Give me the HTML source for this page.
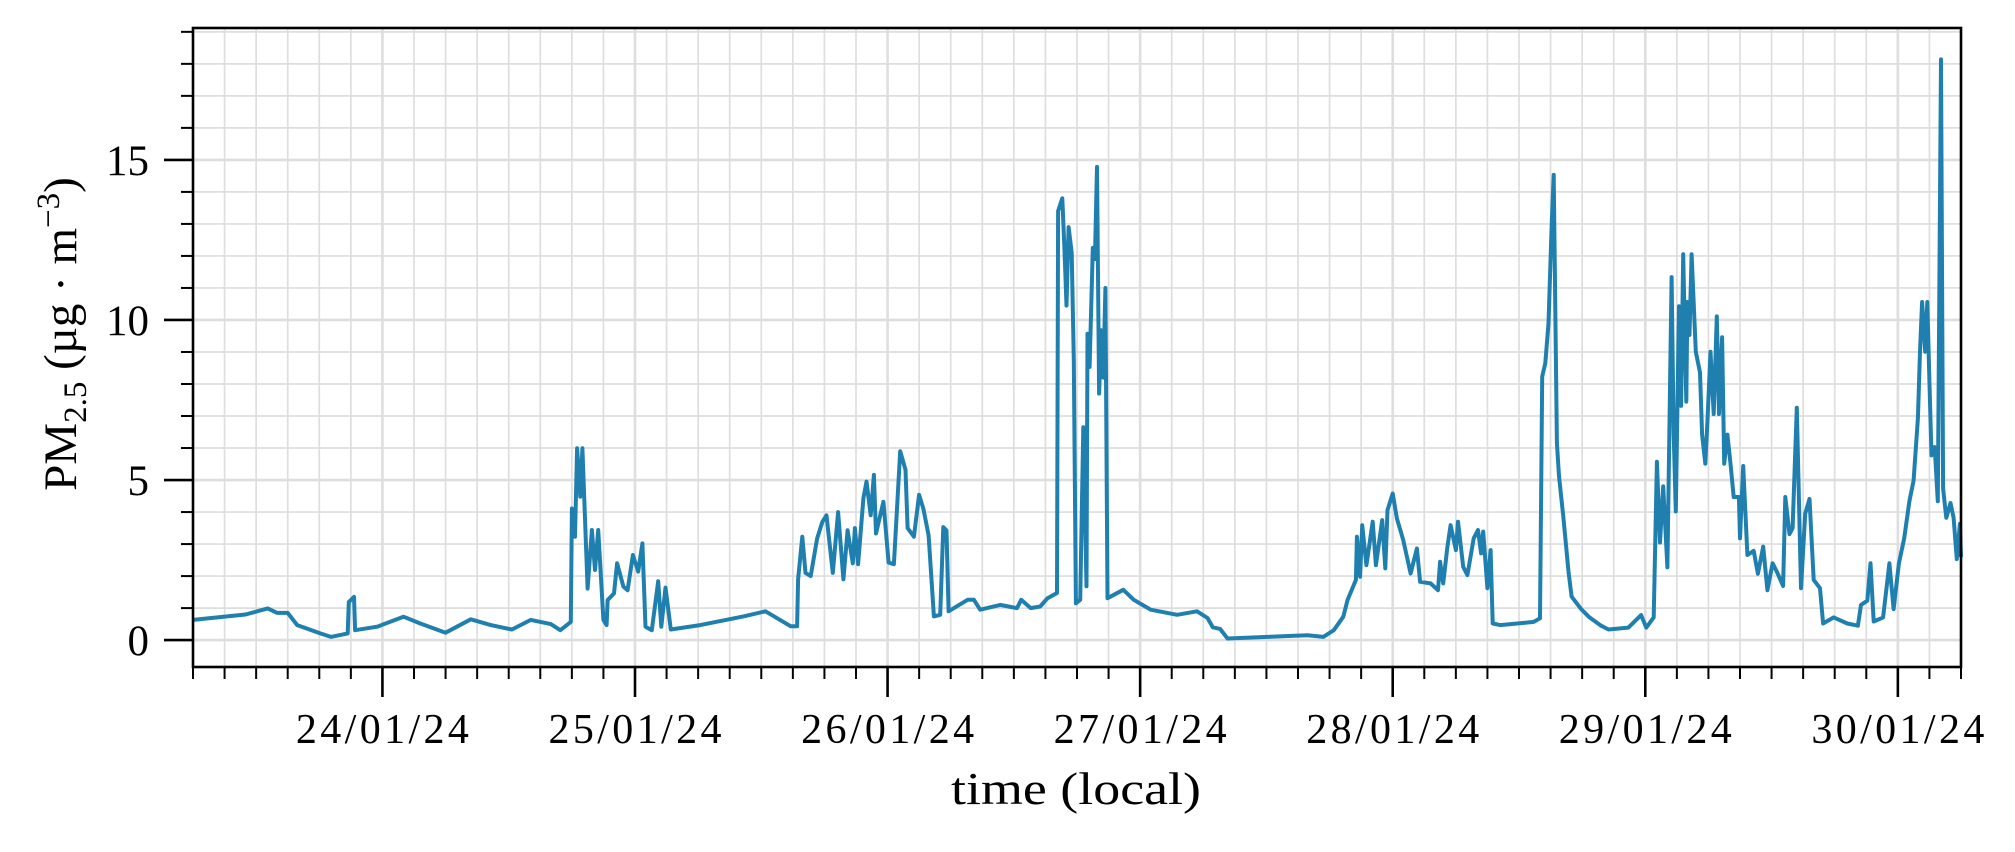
<!DOCTYPE html>
<html><head><meta charset="utf-8"><style>
html,body{margin:0;padding:0;background:#fff;}
svg{display:block;font-family:"Liberation Serif",serif;}
</style></head><body>
<svg id="chart" width="2015" height="852" viewBox="0 0 2015 852" xmlns="http://www.w3.org/2000/svg">
<g id="grid"></g>
<g id="series"></g>
<g id="axes"></g>
<text x="1076" y="804" font-size="46" text-anchor="middle" textLength="250" lengthAdjust="spacingAndGlyphs" fill="#000">time (local)</text>
<text transform="translate(76,334) rotate(-90)" font-size="47" text-anchor="middle" fill="#000">PM<tspan font-size="33" dy="10">2.5</tspan><tspan dy="-10"> (µg · m</tspan><tspan font-size="33" dy="-17">−3</tspan><tspan dy="17">)</tspan></text>
</svg>
<script>
const hours = [6.0,8.9,11.0,13.1,14.0,15.0,15.9,18.1,19.1,20.7,20.8,21.3,21.4,23.5,26.0,27.6,30.0,32.4,34.3,36.3,38.1,40.0,40.9,41.9,42.0,42.3,42.5,42.8,43.0,43.5,43.9,44.2,44.5,44.8,45.0,45.3,45.4,46.0,46.3,46.9,47.3,47.8,48.3,48.7,49.0,49.6,50.2,50.5,50.9,51.4,54.2,58.3,60.4,62.8,63.4,63.5,63.9,64.2,64.7,65.3,65.8,66.2,66.8,67.3,67.8,68.2,68.7,68.9,69.2,69.7,70.0,70.4,70.7,70.9,71.6,72.1,72.6,73.2,73.7,73.9,74.5,75.0,75.4,75.9,76.4,77.0,77.3,77.6,77.8,79.6,80.2,80.8,82.7,84.3,84.7,85.6,86.5,87.2,88.1,88.2,88.6,88.8,89.0,89.2,89.5,89.7,89.9,90.3,90.6,90.9,91.0,91.2,91.5,91.7,91.9,92.1,92.3,92.5,92.7,92.9,94.4,95.4,97.0,99.5,101.4,102.4,102.9,103.6,104.3,108.1,111.9,113.4,114.4,115.3,115.7,116.5,116.6,116.9,117.1,117.5,118.1,118.4,119.0,119.3,119.5,120.0,120.4,121.0,121.7,122.3,122.6,123.6,124.3,124.5,124.8,125.2,125.5,126.0,126.2,126.7,127.1,127.7,128.1,128.4,128.6,129.0,129.3,129.5,130.2,133.4,134.0,134.2,134.5,134.8,135.1,135.3,135.6,135.8,136.2,136.7,137.0,137.9,138.7,139.8,140.5,142.4,143.6,144.1,144.8,145.1,145.4,145.7,146.1,146.5,146.7,146.9,147.2,147.4,147.6,147.9,148.0,148.2,148.4,148.8,149.2,149.4,149.7,149.9,150.2,150.5,150.8,151.0,151.3,151.5,151.8,152.1,152.4,152.9,153.0,153.3,153.7,154.3,154.7,155.2,155.6,156.1,156.5,157.1,157.3,157.7,158.0,158.4,158.8,159.2,159.6,160.0,160.6,160.9,161.9,163.2,164.2,164.5,165.1,165.4,165.7,166.6,167.2,167.6,168.1,168.6,169.1,169.5,169.9,170.1,170.3,170.6,170.8,171.0,171.2,171.5,171.8,172.1,172.3,172.6,173.0,173.3,173.6,173.9,174.0];
const pm25 = [0.63,0.73,0.80,0.99,0.85,0.85,0.47,0.21,0.10,0.21,1.19,1.35,0.31,0.42,0.73,0.52,0.23,0.65,0.47,0.33,0.63,0.50,0.31,0.57,4.11,3.23,5.99,4.48,5.99,1.61,3.44,2.19,3.44,1.77,0.63,0.47,1.25,1.46,2.40,1.67,1.56,2.66,2.14,3.02,0.42,0.31,1.84,0.42,1.64,0.33,0.47,0.74,0.90,0.43,0.43,1.9,3.23,2.1,2.0,3.17,3.69,3.9,2.1,4.0,1.9,3.43,2.4,3.5,2.37,4.43,4.95,3.9,5.16,3.33,4.32,2.42,2.37,5.9,5.32,3.5,3.23,4.54,4.1,3.27,0.74,0.79,3.53,3.42,0.9,1.26,1.26,0.95,1.1,1.0,1.26,1.0,1.05,1.31,1.47,13.4,13.8,12.25,10.45,12.9,12.1,8.75,1.15,1.26,6.65,1.68,9.57,8.53,12.25,11.9,14.78,7.7,9.68,8.2,11.0,1.31,1.57,1.26,0.95,0.79,0.9,0.69,0.4,0.35,0.05,0.10,0.15,0.10,0.31,0.73,1.25,1.88,3.23,1.98,3.59,2.34,3.70,2.34,3.75,2.24,4.06,4.58,3.80,3.13,2.08,2.86,1.82,1.77,1.56,2.45,1.77,2.91,3.59,2.81,3.70,2.29,2.03,3.18,3.44,2.71,3.39,1.62,2.81,0.52,0.47,0.57,0.68,8.23,8.65,9.9,12.9,14.53,6.16,5.12,3.89,2.14,1.36,0.97,0.71,0.45,0.33,0.39,0.78,0.39,0.71,5.57,3.05,4.80,2.27,11.34,6.42,4.02,10.43,7.32,12.05,7.45,10.56,9.53,12.05,9.01,8.36,6.42,5.51,6.80,9.01,7.06,10.11,7.06,9.46,5.51,6.42,5.51,4.47,4.47,3.18,5.44,2.66,2.79,2.07,2.92,1.56,2.40,2.14,1.69,4.47,3.31,3.50,7.26,1.62,3.95,4.41,1.88,1.62,0.52,0.71,0.52,0.45,1.10,1.23,2.40,0.58,0.71,2.40,0.97,2.40,3.18,4.34,4.99,6.93,9.01,10.56,9.01,10.56,8.10,5.77,6.03,4.34,18.14,4.73,3.82,4.28,3.82,2.53,3.63,2.6];
const xTickHours = [24,48,72,96,120,144,168];
const xTickLabels = ["24/01/24","25/01/24","26/01/24","27/01/24","28/01/24","29/01/24","30/01/24"];
const yTickValues = [0,5,10,15];
const yTickLabels = ["0","5","10","15"];

const NS = "http://www.w3.org/2000/svg";
const L = 193, R = 1961, T = 28, B = 667;
const hMin = 6, hMax = 174, vMin = -0.84, vMax = 19.12;
function xs(h){ return L + (h - hMin) / (hMax - hMin) * (R - L); }
function ys(v){ return B - (v - vMin) / (vMax - vMin) * (B - T); }
function mk(tag, attrs, parent){
  const e = document.createElementNS(NS, tag);
  for (const k in attrs) e.setAttribute(k, attrs[k]);
  parent.appendChild(e);
  return e;
}
const grid = document.getElementById('grid');
const axes = document.getElementById('axes');
const series = document.getElementById('series');

for (let h = hMin; h <= hMax + 0.001; h += 3) {
  const major = (h % 24) === 0;
  const ln = mk('line', {x1: xs(h), x2: xs(h), y1: T, y2: B, stroke: '#dedede', 'stroke-width': major ? 2.6 : 1.7}, grid);
  
  
}
for (let v = 0; v <= 19; v++) {
  const major = v % 5 === 0;
  const ln = mk('line', {x1: L, x2: R, y1: ys(v), y2: ys(v), stroke: '#dedede', 'stroke-width': major ? 2.6 : 1.7}, grid);
  
  
}

let d = '';
for (let i = 0; i < hours.length; i++) {
  d += (i ? 'L' : 'M') + xs(hours[i]).toFixed(1) + ',' + ys(pm25[i]).toFixed(1);
}
const path = mk('path', {d: d, fill: 'none', stroke: '#1f80b0', 'stroke-width': 4, 'stroke-linejoin': 'round'}, series);



const frame = mk('rect', {x: L, y: T, width: R - L, height: B - T, fill: 'none', stroke: '#000', 'stroke-width': 2.6}, axes);



for (let h = hMin; h <= hMax + 0.001; h += 3) {
  if (h % 24 === 0) continue;
  const t = mk('line', {x1: xs(h), x2: xs(h), y1: B, y2: B + 12, stroke: '#000', 'stroke-width': 2}, axes);
  
  
}
for (let i = 0; i < xTickHours.length; i++) {
  const x = xs(xTickHours[i]);
  const t = mk('line', {x1: x, x2: x, y1: B, y2: B + 30, stroke: '#000', 'stroke-width': 2.6}, axes);
  
  
  const lb = mk('text', {x: x, y: 743, 'font-size': 42, 'text-anchor': 'middle', textLength: 173, lengthAdjust: 'spacing', fill: '#000'}, axes);
  lb.textContent = xTickLabels[i];
  
  
}
for (let v = 0; v <= 19; v++) {
  if (v % 5 === 0) continue;
  const t = mk('line', {x1: L - 12, x2: L, y1: ys(v), y2: ys(v), stroke: '#000', 'stroke-width': 2}, axes);
  
  
}
for (let i = 0; i < yTickValues.length; i++) {
  const y = ys(yTickValues[i]);
  const t = mk('line', {x1: L - 29, x2: L, y1: y, y2: y, stroke: '#000', 'stroke-width': 2.6}, axes);
  
  
  const lb = mk('text', {x: 149, y: y + 15, 'font-size': 43, 'text-anchor': 'end', fill: '#000'}, axes);
  lb.textContent = yTickLabels[i];
  
  
}
</script>
</body></html>
